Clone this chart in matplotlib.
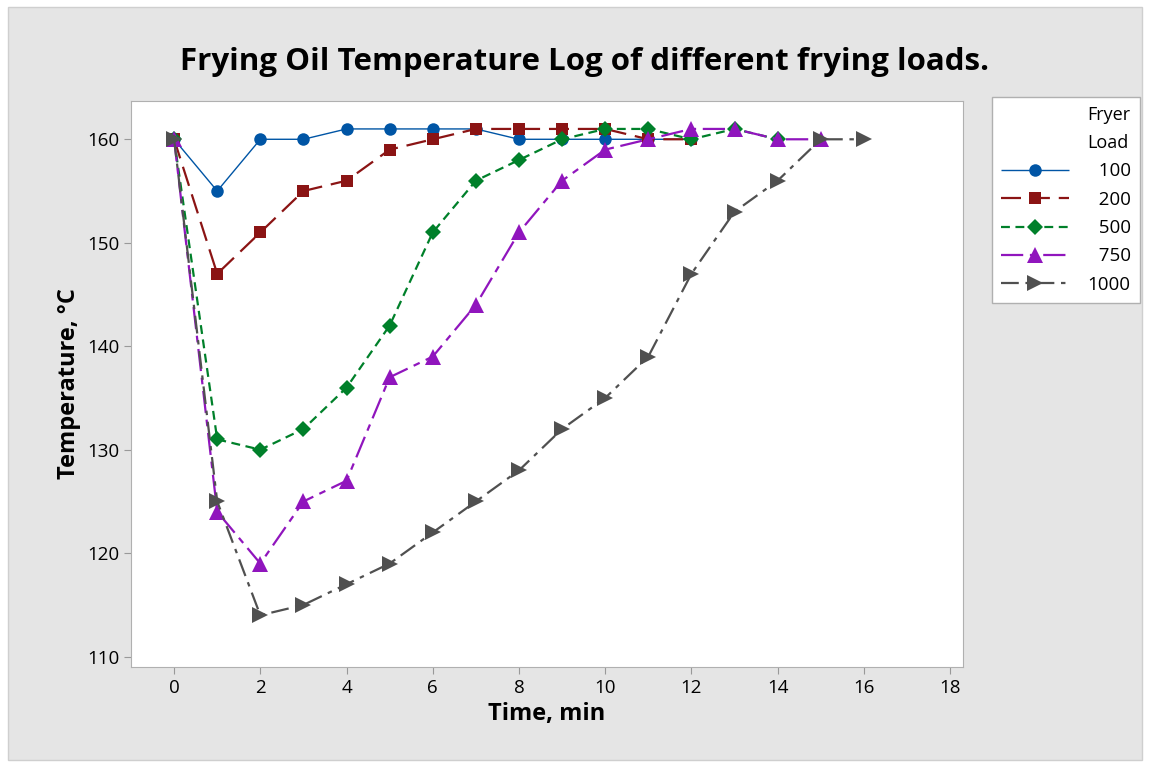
import matplotlib.pyplot as plt
from matplotlib.patches import Rectangle

# data
time_min = list(range(17))
load_labels = ['100', '200', '500', '750', '1000']
t100 = [160, 155, 160, 160, 161, 161, 161, 161, 160, 160, 160, 160, 160]
t200 = [160, 147, 151, 155, 156, 159, 160, 161, 161, 161, 161, 160, 160]
t500 = [160, 131, 130, 132, 136, 142, 151, 156, 158, 160, 161, 161, 160, 161, 160]
t750 = [160, 124, 119, 125, 127, 137, 139, 144, 151, 156, 159, 160, 161, 161, 160, 160]
t1000 = [160, 125, 114, 115, 117, 119, 122, 125, 128, 132, 135, 139, 147, 153, 156, 160, 160]

plt.rcParams['font.family'] = ['Open Sans', 'DejaVu Sans']

fig = plt.figure(figsize=(11.5, 7.67), dpi=100)
fig.patches.append(Rectangle((8/1150, 7/767), 1134/1150, 753/767, transform=fig.transFigure,
                             facecolor='#e5e5e5', edgecolor='#cfcfcf', lw=1, zorder=-10))
ax = fig.add_axes([131/1150, 1-667/767, 832/1150, 566/767])
ax.set_facecolor('white')

styles = [
    (t100, '#0055a5', 'o', (0, ()), 1.0, 9),
    (t200, '#8b1414', 's', (0, (9, 4)), 1.6, 9),
    (t500, '#00802a', 'D', (0, (4, 2.5)), 1.6, 8),
    (t750, '#9015bd', '^', (0, (10, 3, 3, 3)), 1.6, 11),
    (t1000, '#505050', '>', (0, (8, 3, 2, 3)), 1.6, 12),
]
for (vals, col, mk, ls, lw, ms), lab in zip(styles, load_labels):
    ax.plot(time_min[:len(vals)], vals, color=col, marker=mk, linestyle=ls, lw=lw,
            markersize=ms, markeredgewidth=0, label='\u2007' * (4 - len(lab)) + lab)

ax.set_xlim(-1, 18.3)
ax.set_ylim(109, 163.7)
ax.set_xticks(range(0, 19, 2))
ax.set_yticks(range(110, 161, 10))
ax.tick_params(labelsize=13.5, length=5, color='#999999')
for s in ax.spines.values():
    s.set_color('#b0b0b0')

ax.set_xlabel('Time, min', fontsize=17, fontweight='bold')
ax.set_ylabel('Temperature, °C', fontsize=17, fontweight='bold')
fig.text(584/1150, 1-62/767, 'Frying Oil Temperature Log of different frying loads.',
         ha='center', va='center', fontsize=22.5, fontweight='bold')

leg = ax.legend(title='Fryer\nLoad', loc='upper left', bbox_to_anchor=(992/1150, 1-97/767),
                bbox_transform=fig.transFigure, frameon=True, fancybox=False, framealpha=1,
                facecolor='white', fontsize=13.5, title_fontsize=13, handlelength=3.6,
                handletextpad=1.0, alignment='right', borderpad=0.5, borderaxespad=0,
                labelspacing=0.55)
leg.get_frame().set_edgecolor('#b0b0b0')
leg.get_frame().set_linewidth(1)
leg.get_title().set_linespacing(1.7)

fig.savefig('out.png', dpi=100)
